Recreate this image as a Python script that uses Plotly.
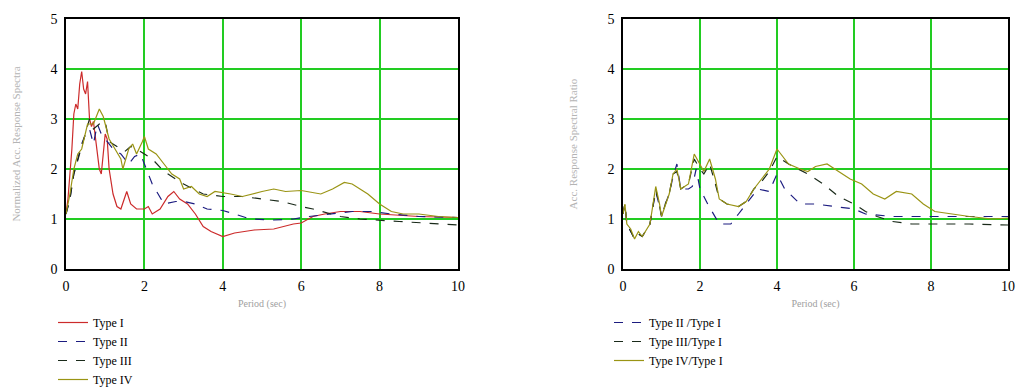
import plotly.graph_objects as go

# ---------------- Left panel data (normalized spectra) ----------------
x_t1 = [0.0, 0.05, 0.1, 0.15, 0.2, 0.25, 0.3, 0.35, 0.4, 0.45, 0.5, 0.55, 0.6, 0.65, 0.7, 0.75, 0.8, 0.85, 0.9,
        0.95, 1.0, 1.05, 1.1, 1.2, 1.3, 1.4, 1.5, 1.55, 1.65, 1.8, 2.0, 2.1, 2.2, 2.4, 2.6, 2.75, 2.9, 3.1, 3.3, 3.5,
        3.7, 4.0, 4.3, 4.8, 5.3, 5.8, 6.0, 6.3, 6.6, 7.0, 7.5, 8.0, 9.0, 10.0]
y_t1 = [1.1, 1.4, 1.9, 2.4, 3.1, 3.3, 3.2, 3.7, 3.95, 3.6, 3.5, 3.75, 3.0, 2.85, 2.95, 2.6, 2.3, 2.0, 1.9,
        2.3, 2.7, 2.6, 2.0, 1.5, 1.25, 1.2, 1.45, 1.55, 1.3, 1.2, 1.2, 1.25, 1.1, 1.2, 1.45, 1.55, 1.4, 1.3, 1.1, 0.85,
        0.75, 0.65, 0.72, 0.78, 0.8, 0.9, 0.92, 1.05, 1.1, 1.15, 1.15, 1.1, 1.05, 1.03]

x_t2 = [0.0, 0.1, 0.2, 0.3, 0.4, 0.5, 0.6, 0.7, 0.8, 0.9, 1.0, 1.2, 1.4, 1.6, 1.75, 1.9, 2.0, 2.2, 2.5, 2.8, 3.0,
        3.3, 3.6, 4.0, 4.3, 4.7, 5.3, 5.8, 6.2, 6.8, 7.3, 7.8, 8.3, 9.0, 10.0]
y_t2 = [1.1, 1.4, 1.9, 2.2, 2.5, 2.7, 2.8, 2.5, 2.9, 2.7, 2.6, 2.4, 2.3, 2.1, 2.25, 2.3, 2.1, 1.7, 1.3, 1.35, 1.35,
        1.3, 1.2, 1.17, 1.1, 1.0, 0.98, 1.0, 1.05, 1.1, 1.15, 1.15, 1.1, 1.05, 1.03]

x_t3 = [0.0, 0.1, 0.2, 0.35, 0.5, 0.6, 0.7, 0.85, 1.0, 1.1, 1.3, 1.5, 1.65, 1.8, 2.0, 2.2, 2.5, 2.8, 3.0, 3.5,
        4.0, 4.5, 5.0, 5.5, 6.0, 6.3, 7.0, 7.5, 8.5, 9.5, 10.0]
y_t3 = [1.1, 1.4, 1.9, 2.3, 2.7, 3.0, 2.8, 2.9, 2.95, 2.55, 2.45, 2.35, 2.45, 2.4, 2.3, 2.2, 1.95, 1.8, 1.7, 1.5,
        1.45, 1.45, 1.4, 1.35, 1.25, 1.2, 1.05, 1.0, 0.95, 0.9, 0.88]

x_t4 = [0.0, 0.1, 0.2, 0.3, 0.4, 0.55, 0.7, 0.85, 0.95, 1.1, 1.25, 1.4, 1.45, 1.6, 1.7, 1.8, 1.95, 2.0, 2.1, 2.3,
        2.5, 2.7, 2.9, 3.0, 3.2, 3.4, 3.6, 3.8, 4.2, 4.5, 5.0, 5.3, 5.6, 6.0, 6.5, 6.8, 7.1, 7.3, 7.7, 8.0, 8.3,
        8.6, 9.0, 9.5, 10.0]
y_t4 = [1.1, 1.5, 2.0, 2.3, 2.4, 2.9, 2.9, 3.2, 3.05, 2.6, 2.4, 2.2, 2.0, 2.4, 2.5, 2.3, 2.55, 2.65, 2.4, 2.3,
        2.1, 1.9, 1.8, 1.6, 1.65, 1.5, 1.45, 1.55, 1.5, 1.45, 1.55, 1.6, 1.55, 1.57, 1.5, 1.6, 1.73, 1.7, 1.5, 1.3,
        1.15, 1.1, 1.1, 1.05, 1.03]

# ---------------- Right panel data (spectral ratios) ----------------
x_r2 = [0.0, 0.05, 0.1, 0.2, 0.3, 0.4, 0.5, 0.7, 0.85, 0.95, 1.0, 1.1, 1.2, 1.3, 1.4, 1.5, 1.7, 1.8, 1.9, 2.0,
        2.2, 2.5, 2.8, 3.0, 3.2, 3.5, 3.8, 4.0, 4.2, 4.6, 5.0, 5.5, 6.0, 6.3, 7.0, 8.0, 9.0, 10.0]
y_r2 = [1.1, 1.3, 0.9, 0.75, 0.6, 0.7, 0.65, 0.9, 1.55, 1.25, 1.05, 1.3, 1.5, 1.85, 2.1, 1.6, 1.6, 1.65, 2.0, 1.6,
        1.3, 0.9, 0.9, 1.1, 1.3, 1.6, 1.55, 1.9, 1.6, 1.3, 1.3, 1.25, 1.2, 1.1, 1.05, 1.05, 1.05, 1.05]

x_r3 = [0.0, 0.05, 0.1, 0.2, 0.3, 0.4, 0.5, 0.7, 0.85, 0.95, 1.0, 1.1, 1.2, 1.3, 1.4, 1.5, 1.7, 1.85, 2.0, 2.1,
        2.25, 2.4, 2.5, 2.7, 3.0, 3.2, 3.4, 3.6, 3.8, 4.0, 4.3, 4.8, 5.2, 5.6, 6.0, 6.3, 6.6, 7.0, 7.5, 8.0, 9.0, 10.0]
y_r3 = [1.1, 1.3, 0.9, 0.75, 0.6, 0.7, 0.65, 0.9, 1.6, 1.25, 1.05, 1.3, 1.5, 1.9, 1.95, 1.6, 1.7, 2.2, 2.0, 1.9,
        2.1, 1.7, 1.4, 1.3, 1.25, 1.35, 1.6, 1.75, 1.95, 2.25, 2.1, 1.9, 1.7, 1.45, 1.3, 1.15, 1.05, 0.95, 0.9, 0.9,
        0.9, 0.88]

x_r4 = [0.0, 0.05, 0.1, 0.2, 0.3, 0.4, 0.5, 0.7, 0.85, 0.95, 1.0, 1.1, 1.2, 1.3, 1.4, 1.5, 1.7, 1.85, 2.0, 2.1,
        2.25, 2.4, 2.5, 2.7, 3.0, 3.2, 3.4, 3.6, 3.8, 4.0, 4.3, 4.6, 4.8, 5.0, 5.3, 5.6, 5.9, 6.2, 6.5, 6.8, 7.1,
        7.5, 7.8, 8.1, 8.5, 9.0, 9.6, 10.0]
y_r4 = [1.1, 1.3, 0.9, 0.8, 0.6, 0.75, 0.65, 0.9, 1.65, 1.3, 1.05, 1.3, 1.5, 1.9, 2.0, 1.6, 1.7, 2.3, 2.1, 1.95,
        2.2, 1.8, 1.4, 1.3, 1.25, 1.35, 1.6, 1.8, 2.0, 2.4, 2.1, 2.0, 1.95, 2.05, 2.1, 1.95, 1.8, 1.7, 1.5, 1.4,
        1.55, 1.5, 1.3, 1.15, 1.1, 1.05, 1.0, 1.02]

x_ticks = [0, 2, 4, 6, 8, 10]
y_ticks = [0, 1, 2, 3, 4, 5]

RED = "#cc2b2b"
BLUE = "#1c1c80"
BLACK = "#1a2a1a"
OLIVE = "#9a9414"
GRID = "#22cc22"
SERIF = "Liberation Serif, DejaVu Serif, Noto Serif, Times New Roman, serif"

fig = go.Figure()

def add(x, y, name, color, dash, xa, ya, legend):
    fig.add_trace(go.Scatter(x=x, y=y, name=name, mode="lines",
                             line=dict(color=color, width=1.2, dash=dash),
                             xaxis=xa, yaxis=ya, legend=legend))

add(x_t1, y_t1, "Type I", RED, "solid", "x", "y", "legend")
add(x_t2, y_t2, "Type II", BLUE, "dash", "x", "y", "legend")
add(x_t3, y_t3, "Type III", BLACK, "dash", "x", "y", "legend")
add(x_t4, y_t4, "Type IV", OLIVE, "solid", "x", "y", "legend")

add(x_r2, y_r2, "Type II /Type I", BLUE, "dash", "x2", "y2", "legend2")
add(x_r3, y_r3, "Type III/Type I", BLACK, "dash", "x2", "y2", "legend2")
add(x_r4, y_r4, "Type IV/Type I", OLIVE, "solid", "x2", "y2", "legend2")

W, H = 1016, 389
ydom = [1 - 269 / H, 1 - 19 / H]

xaxis_common = dict(range=[0, 10], tickvals=x_ticks, showgrid=True, gridcolor=GRID, gridwidth=2,
                    zeroline=False, showline=True, linecolor="black", linewidth=1.5, mirror=True,
                    ticks="", ticklabelstandoff=3, automargin=False,
                    tickfont=dict(family=SERIF, size=14, color="black"),
                    title=dict(text="Period (sec)", font=dict(family=SERIF, size=10, color="#a0a0a0"),
                               standoff=7))
yaxis_common = dict(range=[0, 5], tickvals=y_ticks, showgrid=True, gridcolor=GRID, gridwidth=2,
                    zeroline=False, showline=True, linecolor="black", linewidth=1.5, mirror=True,
                    ticks="", ticklabelstandoff=4, automargin=False,
                    tickfont=dict(family=SERIF, size=14, color="black"))

fig.update_layout(
    width=W, height=H,
    margin=dict(l=0, r=0, t=0, b=0, autoexpand=False),
    paper_bgcolor="white", plot_bgcolor="white",
    xaxis=dict(domain=[66 / W, 458 / W], anchor="y", **xaxis_common),
    yaxis=dict(domain=ydom, anchor="x",
               title=dict(text="Normalized Acc. Response Spectra",
                          font=dict(family=SERIF, size=11, color="#b4b4b4"), standoff=28),
               **yaxis_common),
    xaxis2=dict(domain=[623 / W, 1008 / W], anchor="y2", **xaxis_common),
    yaxis2=dict(domain=ydom, anchor="x2",
                title=dict(text="Acc. Response Spectral Ratio",
                           font=dict(family=SERIF, size=11, color="#b4b4b4"), standoff=28),
                **yaxis_common),
    legend=dict(x=53 / W, y=1 - 308 / H, xanchor="left", yanchor="top",
                font=dict(family=SERIF, size=12, color="black"), tracegroupgap=0,
                bgcolor="rgba(0,0,0,0)"),
    legend2=dict(x=609 / W, y=1 - 308 / H, xanchor="left", yanchor="top",
                 font=dict(family=SERIF, size=12, color="black"), tracegroupgap=0,
                 bgcolor="rgba(0,0,0,0)"),
    showlegend=True,
)

fig.write_html("out.html", config={"displayModeBar": False},
               post_script="document.body.style.margin='0';document.body.style.overflow='hidden';")
